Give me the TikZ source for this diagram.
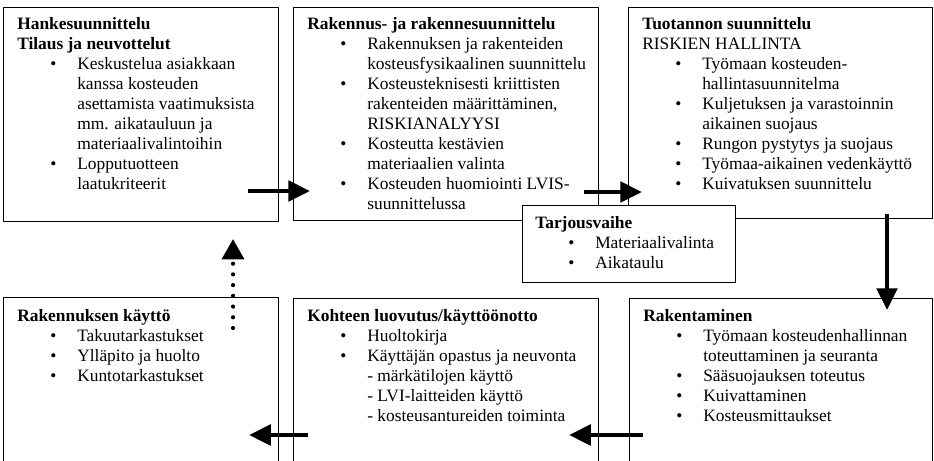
\documentclass[tikz,border=0pt]{standalone}
\usepackage{fontspec}
\setmainfont{Liberation Serif}
\usetikzlibrary{arrows.meta,calc}

\newdimen\px \px=0.69pt
\newcommand\bul{\hspace*{22.8pt}\makebox[18.6pt][l]{\textbullet}}
\newcommand\ind{\hspace*{41.4pt}}

\begin{document}
\begin{tikzpicture}[x=0.69pt,y=-0.69pt,
	box/.style={draw,line width=0.7pt,fill=white,anchor=north west,inner sep=0pt},
	txt/.style={anchor=north west,inner sep=0pt,align=left,font=\fontsize{12}{13.8}\selectfont},
	flow/.style={line width=4.5\px,-{Triangle[length=15pt,width=14pt]}},
	back/.style={line width=4.2\px,line cap=round,dash pattern=on 0pt off 7.4pt,-{Triangle[length=14pt,width=15pt]}}]

		\clip (0,0) rectangle (934,460);

		% upper row
		\node[box,minimum width=275\px,minimum height=214\px] (b1) at (  3,  7) {};
		\node[box,minimum width=305\px,minimum height=213\px] (b2) at (293,  7) {};
		\node[box,minimum width=304\px,minimum height=211\px] (b3) at (628,  7) {};

		% lower row (runs past the bottom edge)
		\node[box,minimum width=275\px,minimum height=200\px] (b4) at (  3,297) {};
		\node[box,minimum width=305\px,minimum height=200\px] (b5) at (293,298) {};
		\node[box,minimum width=303\px,minimum height=200\px] (b6) at (629,298) {};

		\node[box,minimum width=213\px,minimum height=77\px] (tj) at (522,205) {};

		\node[txt] (t1) at ( 17, 17) {\textbf{Hankesuunnittelu}\\
			\textbf{Tilaus ja neuvottelut}\\
			\bul Keskustelua asiakkaan\\ \ind kanssa kosteuden\\ \ind asettamista vaatimuksista\\
			\ind mm. aikatauluun ja\\ \ind materiaalivalintoihin\\
			\bul Lopputuotteen\\ \ind laatukriteerit};
		\node[txt] (t2) at (307, 17) {\textbf{Rakennus- ja rakennesuunnittelu}\\
			\bul Rakennuksen ja rakenteiden\\ \ind kosteusfysikaalinen suunnittelu\\
			\bul Kosteusteknisesti kriittisten\\ \ind rakenteiden määrittäminen,\\ \ind RISKIANALYYSI\\
			\bul Kosteutta kestävien\\ \ind materiaalien valinta\\
			\bul Kosteuden huomiointi LVIS-\\ \ind suunnittelussa};
		\node[txt] (t3) at (642, 17) {\textbf{Tuotannon suunnittelu}\\
			RISKIEN HALLINTA\\
			\bul Työmaan kosteuden-\\ \ind hallintasuunnitelma\\
			\bul Kuljetuksen ja varastoinnin\\ \ind aikainen suojaus\\
			\bul Rungon pystytys ja suojaus\\
			\bul Työmaa-aikainen vedenkäyttö\\
			\bul Kuivatuksen suunnittelu};
		\node[txt] (tt) at (535,216) {\textbf{Tarjousvaihe}\\
			\bul Materiaalivalinta\\
			\bul Aikataulu};
		\node[txt] (t4) at ( 17,309) {\textbf{Rakennuksen käyttö}\\
			\bul Takuutarkastukset\\
			\bul Ylläpito ja huolto\\
			\bul Kuntotarkastukset};
		\node[txt] (t5) at (307,309) {\textbf{Kohteen luovutus/käyttöönotto}\\
			\bul Huoltokirja\\
			\bul Käyttäjän opastus ja neuvonta\\
			\ind - märkätilojen käyttö\\ \ind - LVI-laitteiden käyttö\\ \ind - kosteusantureiden toiminta};
		\node[txt] (t6) at (643,309) {\textbf{Rakentaminen}\\
			\bul Työmaan kosteudenhallinnan\\ \ind toteuttaminen ja seuranta\\
			\bul Sääsuojauksen toteutus\\
			\bul Kuivattaminen\\
			\bul Kosteusmittaukset};

		\draw[flow] ($(b1.south east)+(-31,-31)$) to ($(b2.south west)+(17,-30)$);
		\draw[flow] ($(b2.south east)+(-15,-29)$) to ($(b3.south west)+(14,-27)$);
		\draw[flow] ($(b3.south east)+(-46,-5)$) to ($(b6.north east)+(-46,12)$);
		\draw[flow] ($(b6.north west)+(14,137)$) to ($(b5.north east)+(-30,137)$);
		\draw[flow] ($(b5.north west)+(15,137)$) to ($(b4.north east)+(-30,138)$);
		\draw[back] ($(b4.north east)+(-46,31)$) to ($(b1.south east)+(-46,17)$);

	\end{tikzpicture}
\end{document}
